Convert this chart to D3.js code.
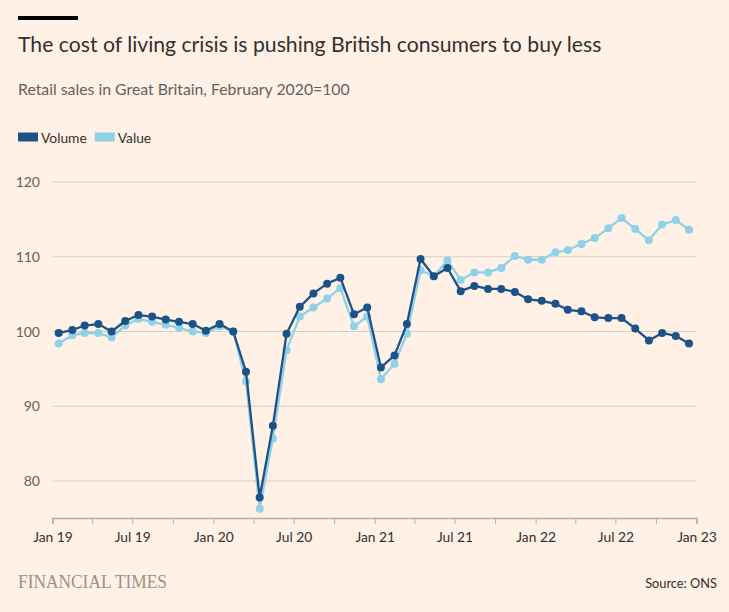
<!DOCTYPE html>
<html>
<head>
<meta charset="utf-8">
<script src="https://cdn.jsdelivr.net/npm/d3@7"></script>
<style>
  html, body { margin: 0; padding: 0; background: #fff1e5; }
  svg { display: block; font-family: "Lato", "Noto Sans", sans-serif; }
</style>
</head>
<body>
<svg id="chart" width="729" height="612"></svg>
<script>
// ---- Data ----
const startYear = 2019;
const months = d3.range(48).map(i => new Date(startYear + Math.floor(i / 12), i % 12, 15));
const volume = [
  99.8, 100.2, 100.8, 101.0, 100.0, 101.4, 102.2, 102.0, 101.6, 101.3, 101.0, 100.1,
  101.0, 100.0, 94.6, 77.8, 87.4, 99.7, 103.3, 105.1, 106.4, 107.2, 102.3, 103.2,
  95.2, 96.8, 101.0, 109.7, 107.4, 108.5, 105.4, 106.1, 105.7, 105.7, 105.3, 104.3,
  104.1, 103.7, 102.9, 102.7, 101.9, 101.8, 101.8, 100.4, 98.8, 99.8, 99.4, 98.4
];
const value = [
  98.4, 99.5, 99.8, 99.8, 99.2, 100.8, 101.7, 101.3, 100.9, 100.5, 100.0, 99.8,
  100.7, 100.0, 93.3, 76.3, 85.7, 97.5, 102.0, 103.2, 104.4, 105.8, 100.7, 102.0,
  93.6, 95.7, 99.7, 108.2, 107.4, 109.5, 106.9, 107.9, 107.9, 108.5, 110.1, 109.6,
  109.6, 110.6, 110.9, 111.7, 112.5, 113.8, 115.2, 113.7, 112.2, 114.3, 114.9, 113.6
];
const yTicks = [80, 90, 100, 110, 120];
const xTickLabels = ["Jan 19", "Jul 19", "Jan 20", "Jul 20", "Jan 21", "Jul 21", "Jan 22", "Jul 22", "Jan 23"];
const seriesNames = ["Volume", "Value"];
const colors = ["#1d5289", "#8fd1e7"];

// ---- Layout ----
const svg = d3.select("#chart");
const plotLeft = 52.5, plotRight = 696.5, plotBottom = 518;

const x = d3.scaleTime()
  .domain([new Date(2019, 0, 1), new Date(2023, 0, 1)])
  .range([plotLeft, plotRight]);
const y = d3.scaleLinear()
  .domain([80, 120])
  .range([481, 182]);

// Header
svg.append("rect").attr("x", 18).attr("y", 16).attr("width", 60).attr("height", 4).attr("fill", "#000");
svg.append("text").attr("x", 18).attr("y", 52)
  .attr("font-size", 21.2).attr("fill", "#33302e")
  .text("The cost of living crisis is pushing British consumers to buy less");
svg.append("text").attr("x", 18).attr("y", 95)
  .attr("font-size", 15.8).attr("fill", "#66605c")
  .text("Retail sales in Great Britain, February 2020=100");

// Legend
const leg = svg.append("g");
let lx = 18;
seriesNames.forEach((name, i) => {
  leg.append("rect").attr("x", lx).attr("y", 132.5).attr("width", 20).attr("height", 9).attr("fill", colors[i]);
  const t = leg.append("text").attr("x", lx + 23).attr("y", 142.5)
    .attr("font-size", 13.8).attr("fill", "#33302e").text(name);
  lx += 23 + t.node().getComputedTextLength() + 8;
});

// Gridlines + y labels
const grid = svg.append("g");
yTicks.forEach(v => {
  grid.append("line").attr("x1", plotLeft).attr("x2", plotRight)
    .attr("y1", y(v)).attr("y2", y(v))
    .attr("stroke", "#d8cdc3").attr("stroke-width", 1);
  grid.append("text").attr("x", 40).attr("y", y(v) + 5)
    .attr("text-anchor", "end").attr("font-size", 14).attr("fill", "#66605c")
    .text(v);
});

// X axis
const qTicks = d3.range(17).map(i => new Date(2019, i * 3, 1));
const xAxis = d3.axisBottom(x)
  .tickValues(qTicks)
  .tickSize(6)
  .tickFormat((d, i) => (i % 2 === 0) ? xTickLabels[i / 2] : "");
const ax = svg.append("g").attr("transform", `translate(0,${plotBottom})`).call(xAxis);
ax.attr("font-family", null).attr("font-size", null);
ax.select(".domain").attr("stroke", "#b8aea6").attr("stroke-width", 1.5);
ax.selectAll(".tick line").attr("stroke", "#b8aea6").attr("stroke-width", 1);
ax.selectAll(".tick text").attr("font-size", 13.8).attr("fill", "#33302e").attr("dy", "1.1em");

// Lines
const seriesData = [volume, value];
const line = d3.line().x((d, i) => x(months[i])).y(d => y(d));
[1, 0].forEach(si => {
  const g = svg.append("g");
  g.append("path").datum(seriesData[si])
    .attr("d", line).attr("fill", "none")
    .attr("stroke", colors[si]).attr("stroke-width", 2.3).attr("stroke-linejoin", "round");
  g.selectAll("circle").data(seriesData[si]).join("circle")
    .attr("cx", (d, i) => x(months[i])).attr("cy", d => y(d)).attr("r", 4)
    .attr("fill", colors[si]);
});

// Footer
const ft = svg.append("text").attr("x", 18).attr("y", 588)
  .style("font-family", "'Liberation Serif', 'DejaVu Serif', serif")
  .attr("font-size", 18).attr("fill", "#9a918a")
  .text("FINANCIAL TIMES");
const ftw = ft.node().getComputedTextLength();
ft.attr("textLength", 149).attr("lengthAdjust", "spacingAndGlyphs");
svg.append("text").attr("x", 717).attr("y", 588)
  .attr("text-anchor", "end").attr("font-size", 12.8).attr("fill", "#33302e")
  .text("Source: ONS");
</script>
</body>
</html>
